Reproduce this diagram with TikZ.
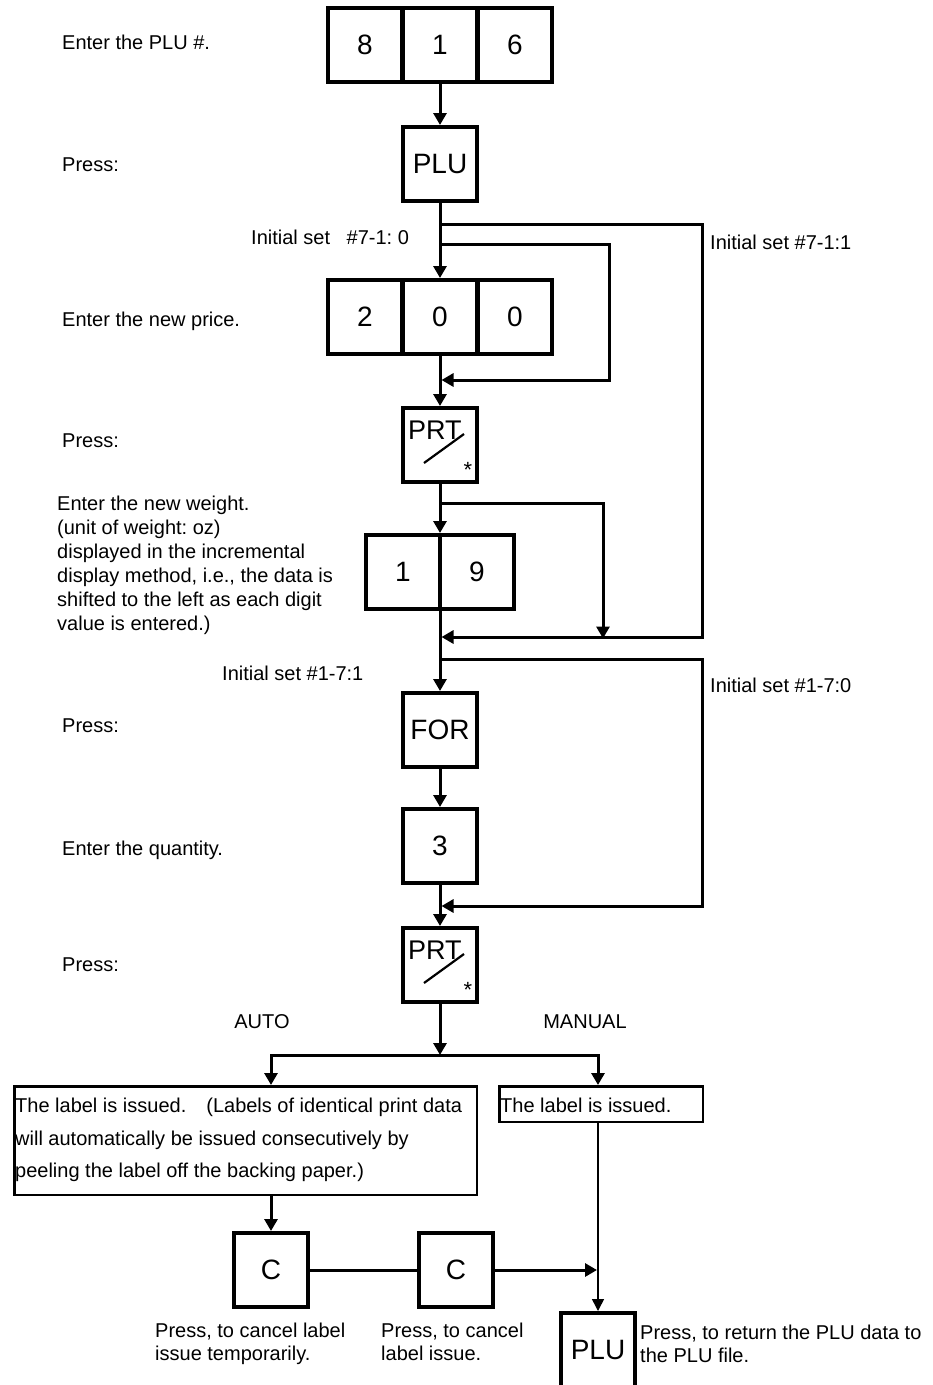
\documentclass[tikz,border=0pt]{standalone}
\usepackage{fontspec}
\setmainfont{Liberation Sans}
\usetikzlibrary{arrows.meta}
\frenchspacing
\begin{document}
\frenchspacing
\begin{tikzpicture}[x=1pt,y=-1pt,
  key/.style={draw,line width=4pt,minimum width=74pt,minimum height=74pt,inner sep=0pt,font=\fontsize{28}{30}\selectfont},
  conn/.style={line width=3pt},
  tip/.tip={Triangle[length=12pt,width=13pt]},
  arr/.style={conn,-tip},
  thinarr/.style={line width=1.5pt,-{Triangle[length=12pt,width=12pt]}},
  lbl/.style={anchor=base west,inner sep=0pt,font=\fontsize{20}{24}\selectfont},
  clbl/.style={anchor=base,inner sep=0pt,font=\fontsize{20}{24}\selectfont},
  tbox/.style={draw,line width=2.5pt,inner sep=0pt},
  prtt/.style={anchor=base west,inner sep=0pt,font=\fontsize{27}{30}\selectfont},
  star/.style={anchor=base,inner sep=0pt,font=\fontsize{22}{24}\selectfont},
  slash/.style={line width=2.2pt}
]
\useasboundingbox (0,0) rectangle (933,1385);
\clip (0,0) rectangle (933,1385);

% keys
\node[key] (k8) at (365,45) {8};
\node[key] (k1) at (440,45) {1};
\node[key] (k6) at (515,45) {6};
\node[key] (plu1) at (440,164) {PLU};
\node[key] (p2) at (365,317) {2};
\node[key] (p0a) at (440,317) {0};
\node[key] (p0b) at (515,317) {0};
\node[key] (prt1) at (440,445) {};
\node[key] (w1) at (403,572) {1};
\node[key] (w9) at (477,572) {9};
\node[key] (for) at (440,730) {FOR};
\node[key] (q3) at (440,846) {3};
\node[key] (prt2) at (440,965) {};
\node[key] (c1) at (271,1270) {C};
\node[key] (c2) at (456,1270) {C};
\node[key] (plu2) at (598,1350) {PLU};

% PRT key faces
\foreach \k in {prt1,prt2}{
  \node[prtt] at ([shift={(-32,-6)}]\k.center) {PRT};
  \draw[slash] ([shift={(-16,18)}]\k.center) -- ([shift={(24,-11)}]\k.center);
  \node[star] at ([shift={(28,32)}]\k.center) {*};
}

% junction coordinates
\coordinate (j1) at (440,224);
\coordinate (r1) at (702,224);
\coordinate (j2) at (440,244);
\coordinate (r2) at (609,244);
\coordinate (j3) at (440,380);
\coordinate (j4) at (440,503);
\coordinate (r4) at (603,503);
\coordinate (j5) at (440,637);
\coordinate (j6) at (440,659);
\coordinate (r6) at (702,659);
\coordinate (j7) at (440,906);
\coordinate (h0) at (440,1055);
\coordinate (h1) at (271,1055);
\coordinate (h2) at (598,1055);
\coordinate (j9) at (598,1270);

% main line
\draw[arr] (k1.south) -- (plu1.north);
\draw[arr] (plu1.south) -- (p0a.north);
\draw[arr] (p0a.south) -- (prt1.north);
\draw[arr] (prt1.south) -- (prt1.south |- w1.north);
\draw[arr] (for.north |- w1.south) -- (for.north);
\draw[arr] (for.south) -- (q3.north);
\draw[arr] (q3.south) -- (prt2.north);
\draw[arr] (prt2.south) -- (h0);

% bypass branches
\draw[arr] (j1) -- (r1) -- (r1 |- j5) -- ([xshift=1.5pt]j5);
\draw[arr] (j2) -- (r2) -- (r2 |- j3) -- ([xshift=1.5pt]j3);
\draw[arr] (j4) -- (r4) -- ([yshift=-1.5pt]r4 |- j5);
\draw[arr] (j6) -- (r6) -- (r6 |- j7) -- ([xshift=1.5pt]j7);

% auto / manual
\node[clbl] (auto) at (262,1028) {AUTO};
\node[clbl] (manual) at (585,1028) {MANUAL};

\node[tbox,minimum width=462.5pt,minimum height=108.5pt] (abox) at (245.5,1140.5) {};
\node[tbox,minimum width=203.5pt,minimum height=35.5pt] (mbox) at (601,1104) {};

\draw[conn,tip-tip] (h1 |- abox.north) -- (h1) -- (h2) -- (h2 |- mbox.north);

\node[lbl] at (15,1112) {The label is issued.\hspace{20pt}(Labels of identical print data};
\node[lbl] at (15,1145) {will automatically be issued consecutively by};
\node[lbl] at (15,1177) {peeling the label off the backing paper.)};
\node[lbl] at (500,1112) {The label is issued.};

\draw[arr] (c1 |- abox.south) -- (c1.north);
\draw[conn] (c1.east) -- (c2.west);
\draw[arr] (c2.east) -- ([xshift=-1pt]j9);
\draw[thinarr] (h2 |- mbox.south) -- (h2 |- plu2.north);

% labels
\node[lbl] at (62,49) {Enter the PLU \#.};
\node[lbl] at (62,171) {Press:};
\node[lbl] at (251,244) {Initial set\hspace{11pt} \#7-1: 0};
\node[lbl] at (710,249) {Initial set \#7-1:1};
\node[lbl] at (62,326) {Enter the new price.};
\node[lbl] at (62,447) {Press:};
\node[lbl] at (57,510) {Enter the new weight.};
\node[lbl] at (57,534) {(unit of weight: oz)};
\node[lbl] at (57,558) {displayed in the incremental};
\node[lbl] at (57,582) {display method, i.e., the data is};
\node[lbl] at (57,606) {shifted to the left as each digit};
\node[lbl] at (57,630) {value is entered.)};
\node[lbl] at (222,680) {Initial set \#1-7:1};
\node[lbl] at (710,692) {Initial set \#1-7:0};
\node[lbl] at (62,732) {Press:};
\node[lbl] at (62,855) {Enter the quantity.};
\node[lbl] at (62,971) {Press:};

\node[lbl] at (155,1337) {Press, to cancel label};
\node[lbl] at (155,1360) {issue temporarily.};
\node[lbl] at (381,1337) {Press, to cancel};
\node[lbl] at (381,1360) {label issue.};
\node[lbl] at (640,1339) {Press, to return the PLU data to};
\node[lbl] at (640,1362) {the PLU file.};
\end{tikzpicture}
\end{document}
